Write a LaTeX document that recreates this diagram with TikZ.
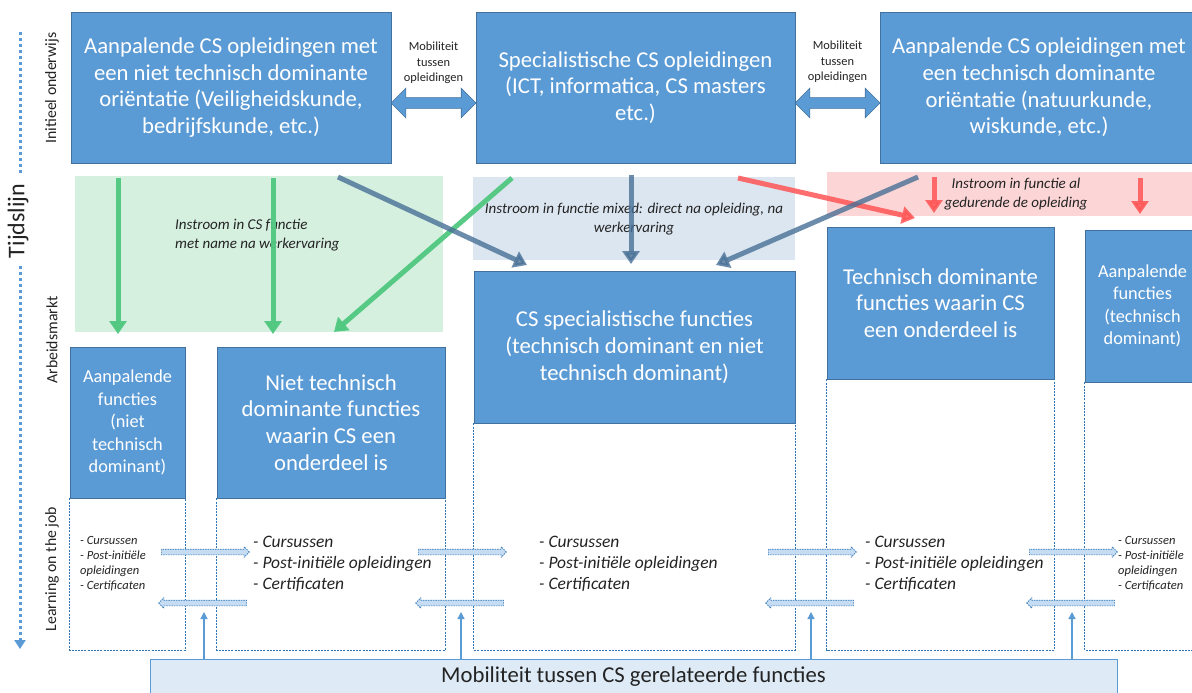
\documentclass[tikz,border=0pt]{standalone}
\usepackage{fontspec}
\setmainfont{Carlito}
\usetikzlibrary{arrows.meta,shapes.arrows}

\definecolor{boxblue}{RGB}{91,155,213}
\definecolor{boxedge}{RGB}{65,113,156}
\definecolor{lineblue}{RGB}{46,117,182}
\definecolor{hopfill}{RGB}{197,220,242}
\definecolor{bandgreen}{RGB}{214,240,224}
\definecolor{bandblue}{RGB}{220,230,241}
\definecolor{bandred}{RGB}{252,214,214}
\definecolor{flowgreen}{RGB}{80,200,128}
\definecolor{flowblue}{RGB}{72,112,150}
\definecolor{flowred}{RGB}{255,85,85}
\definecolor{mobfill}{RGB}{222,235,247}
\definecolor{darktext}{RGB}{35,35,35}

\tikzset{
  box/.style={rectangle, fill=boxblue, draw=boxedge, line width=0.6pt, text=white, align=center, inner sep=0pt},
  txtbig/.style={font=\fontsize{22.7}{26.7}\selectfont},
  txtmid/.style={font=\fontsize{18.3}{22.5}\selectfont},
  flow/.style={line width=5pt, -{Triangle[length=13pt,width=17pt]}},
  greenflow/.style={flow, draw=flowgreen, opacity=0.95},
  blueflow/.style={flow, draw=flowblue, opacity=0.8},
  redflow/.style={flow, draw=flowred, opacity=0.85},
  note/.style={font=\fontsize{15}{18.5}\selectfont\itshape, text=darktext, inner sep=0pt},
  bullets/.style={align=left, anchor=west, inner sep=0pt, text=darktext, font=\fontsize{17.5}{21}\selectfont\itshape},
  smallbullets/.style={bullets, font=\fontsize{12.5}{15}\selectfont\itshape},
  moblabel/.style={align=center, text=darktext, inner sep=0pt, font=\fontsize{12.4}{15.5}\selectfont},
  mobarrow/.style={double arrow, fill=boxblue, draw=boxedge, line width=0.6pt, minimum height=85pt, inner xsep=0pt, inner ysep=5pt, double arrow head extend=9.5pt},
  hop/.style={single arrow, fill=hopfill, draw=lineblue, line width=0.6pt, dash pattern=on 1.5pt off 1pt, minimum height=88pt, inner xsep=0pt, inner ysep=2.5pt, single arrow head extend=2.5pt},
  dashline/.style={draw=lineblue, line width=0.7pt, dash pattern=on 2pt off 1.2pt},
  uparrow/.style={draw=boxblue, line width=1.3pt, -{Triangle[length=7pt,width=7pt]}},
  sidelabel/.style={rotate=90, text=darktext, font=\fontsize{15.8}{18}\selectfont},
}

\begin{document}
\begin{tikzpicture}[x=1pt,y=-1pt]
  \useasboundingbox[fill=white] (0,0) rectangle (1192,693);

  % time line on the left
  \coordinate (tStart) at (20,32);
  \coordinate (tEnd) at (20,649);
  \draw[draw=boxblue, line width=3pt, dash pattern=on 3pt off 3pt, -{Triangle[length=9pt,width=11pt]}] (tStart) -- (tEnd);
  \node[fill=white, rotate=90, text=darktext, font=\fontsize{24}{26}\selectfont, inner xsep=8pt, inner ysep=5pt] (tijd) at (18,221) {Tijdslijn};
  \node[sidelabel] (initieel) at (52,88) {Initieel onderwijs};
  \node[sidelabel] (arbeid) at (52,340) {Arbeidsmarkt};
  \node[sidelabel] (learning) at (52,569) {Learning on the job};

  % bands
  \fill[bandgreen] (75,176) rectangle (443,332);
  \fill[bandblue] (473,177) rectangle (795,260);
  \fill[bandred] (827,172) rectangle (1192,216);

  % opleidingen
  \node[box, txtbig, minimum width=320pt, minimum height=151pt] (aanOplNiet) at (231,87.5)
    {Aanpalende CS opleidingen met\\een niet technisch dominante\\oriëntatie (Veiligheidskunde,\\bedrijfskunde, etc.)};
  \node[box, txtbig, minimum width=319pt, minimum height=151pt] (specOpl) at (635.5,87.5)
    {Specialistische CS opleidingen\\(ICT, informatica, CS masters\\etc.)};
  \node[box, txtbig, minimum width=318pt, minimum height=151pt] (aanOplTech) at (1039,87.5)
    {Aanpalende CS opleidingen met\\een technisch dominante\\oriëntatie (natuurkunde,\\wiskunde, etc.)};

  \node[mobarrow] (mobOplL) at (433.5,103) {};
  \node[mobarrow] (mobOplR) at (837.5,103) {};
  \node[moblabel] (mobTxtL) at (433.5,63) {Mobiliteit\\tussen\\opleidingen};
  \node[moblabel] (mobTxtR) at (837.5,62) {Mobiliteit\\tussen\\opleidingen};

  % functies
  \node[box, txtmid, minimum width=115pt, minimum height=151pt] (aanFunNiet) at (127.5,422.5)
    {Aanpalende\\functies\\(niet\\technisch\\dominant)};
  \node[box, txtbig, minimum width=228pt, minimum height=151pt] (nietTechFun) at (331,422.5)
    {Niet technisch\\dominante functies\\waarin CS een\\onderdeel is};
  \node[box, txtbig, minimum width=321pt, minimum height=152pt] (csSpecFun) at (634.5,347)
    {CS specialistische functies\\(technisch dominant en niet\\technisch dominant)};
  \node[box, txtbig, minimum width=227pt, minimum height=152pt] (techDomFun) at (940.5,303)
    {Technisch dominante\\functies waarin CS\\een onderdeel is};
  \node[box, txtmid, minimum width=115pt, minimum height=152pt] (aanFunTech) at (1142.5,306)
    {Aanpalende\\functies\\(technisch\\dominant)};

  % instroom
  \node[note, align=left, anchor=west] (instroomNa) at (175,235) {Instroom in CS functie\\met name na werkervaring};
  \node[note, align=center] (instroomMix) at (634,219) {Instroom in functie mixed: direct na opleiding, na\\werkervaring};
  \node[note, align=center] (instroomAl) at (1016,194) {Instroom in functie al\\gedurende de opleiding};

  \foreach \i/\xa/\ya/\xb/\yb in {1/118/178/118/334, 2/273/178/273/334, 3/512/178/334/332} {
    \coordinate (gs\i) at (\xa,\ya); \coordinate (ge\i) at (\xb,\yb);
    \draw[greenflow] (gs\i) -- (ge\i);
  }
  \foreach \i/\xa/\ya/\xb/\yb in {1/738/178/915/218, 2/934/177/934/213, 3/1140/178/1140/214} {
    \coordinate (rs\i) at (\xa,\ya); \coordinate (re\i) at (\xb,\yb);
    \draw[redflow] (rs\i) -- (re\i);
  }
  \foreach \i/\xa/\ya/\xb/\yb in {1/338/177/527/265, 2/631/175/631/264, 3/918/177/716/265} {
    \coordinate (bs\i) at (\xa,\ya); \coordinate (be\i) at (\xb,\yb);
    \draw[blueflow] (bs\i) -- (be\i);
  }

  % learning on the job
  \coordinate (base) at (0,650);
  \foreach \b in {aanFunNiet,nietTechFun,csSpecFun,techDomFun}
    \draw[dashline] (\b.south west) -- (\b.south west |- base) -| (\b.south east);
  \draw[dashline] (aanFunTech.south west) -- (aanFunTech.south west |- base) -- (aanFunTech.south east |- base);

  \node[smallbullets] (leerA) at (80,564) {- Cursussen\\- Post-initiële\\opleidingen\\- Certificaten};
  \node[bullets] (leerB) at (253,564) {- Cursussen\\- Post-initiële opleidingen\\- Certificaten};
  \node[bullets] (leerC) at (539,564) {- Cursussen\\- Post-initiële opleidingen\\- Certificaten};
  \node[bullets] (leerD) at (865,564) {- Cursussen\\- Post-initiële opleidingen\\- Certificaten};
  \node[smallbullets] (leerE) at (1118,564) {- Cursussen\\- Post-initiële\\opleidingen\\- Certificaten};

  \node[rectangle, fill=mobfill, draw=boxblue, line width=0.8pt, minimum width=967pt, minimum height=36pt, inner sep=0pt,
    text=darktext, font=\fontsize{22.7}{26}\selectfont] (mobFun) at (633.5,677) {Mobiliteit tussen CS gerelateerde functies};

  \foreach \gx [count=\i] in {204,461,811,1072} {
    \node[hop] (hopR\i) at (\gx,552) {};
    \node[hop, shape border rotate=180] (hopL\i) at (\gx,603) {};
    \coordinate (up\i) at (\gx,612);
    \draw[uparrow] (up\i |- mobFun.north) -- (up\i);
  }
\end{tikzpicture}
\end{document}
